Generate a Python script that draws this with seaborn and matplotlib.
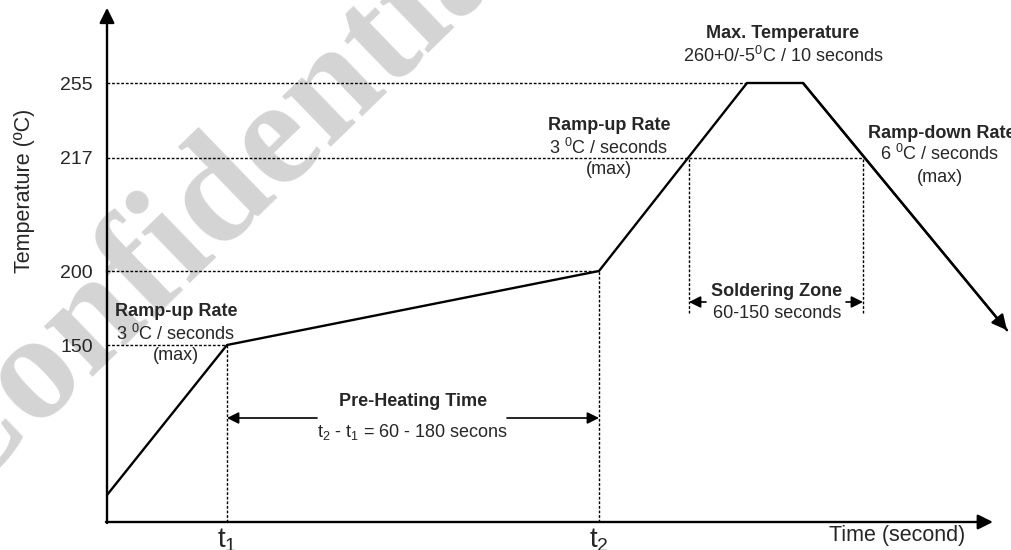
import numpy as np
import matplotlib
matplotlib.use("Agg")
import matplotlib.pyplot as plt
import seaborn as sns

# reflow profile (schematic)
profile_time = [0, 60, 246, 320, 348, 450]
profile_temp = [25, 150, 200, 255, 255, 160]
level_temps = [150, 200, 217, 255]
level_labels = ["150", "200", "217", "255"]
level_ends = [60, 246, 378, 320]
t_marks = [60, 246]
t_labels = ["t$_1$", "t$_2$"]
zone_times = [291, 378]
zone_bottom = 171.6

W, H = 1011, 550

sns.set_style("white")
plt.rcParams["font.family"] = ["Liberation Sans", "DejaVu Sans"]
plt.rcParams["mathtext.fontset"] = "custom"
plt.rcParams["mathtext.rm"] = "Liberation Sans"
plt.rcParams["mathtext.it"] = "Liberation Sans:italic"
plt.rcParams["mathtext.bf"] = "Liberation Sans:bold"

# the temperature axis is not to scale: piecewise mapping
anchor_t = np.array([0, 25, 150, 200, 217, 255, 300])
anchor_h = np.array([0, 27, 177, 251, 364, 439, 522])

def fwd(v):
    return np.interp(v, anchor_t, anchor_h)

def inv(v):
    return np.interp(v, anchor_h, anchor_t)

def px(x, y):
    return x / W, 1 - y / H

fig = plt.figure(figsize=(W / 100, H / 100), dpi=100)
ax = fig.add_axes([107 / W, 28 / H, 904 / W, 522 / H])
ax.set_yscale("function", functions=(fwd, inv))
ax.set_xlim(0, 452)
ax.set_ylim(0, 300)
for s in ax.spines.values():
    s.set_visible(False)

# watermark
ax.text(*px(222, 194), "Confidential", transform=fig.transFigure, fontsize=110,
        family="Liberation Serif", weight="bold", color="#d4d4d4", rotation=44,
        ha="center", va="center", zorder=0.5, clip_on=False)

dot = dict(color="black", lw=1, ls=(0, (2, 1.3)), zorder=1)
ax.hlines(level_temps, 0, level_ends, **dot)
ax.vlines(t_marks, 0, [150, 200], **dot)
ax.vlines(zone_times, zone_bottom, 217, **dot)

sns.lineplot(x=profile_time, y=profile_temp, color="black", lw=1.7, ax=ax, zorder=3)
ax.annotate("", xy=(profile_time[-1], profile_temp[-1]),
            xytext=(profile_time[-2], profile_temp[-2]), annotation_clip=False,
            arrowprops=dict(arrowstyle="-|>,head_length=0.6,head_width=0.3",
                            mutation_scale=15, color="black", lw=1.7,
                            shrinkA=0, shrinkB=0), zorder=3)

# axes with arrows
axis_arrow = dict(arrowstyle="-|>,head_length=0.6,head_width=0.3", mutation_scale=15,
                  color="black", lw=1.7, shrinkA=0, shrinkB=0)
ax.annotate("", xy=(0, 0.985), xytext=(0, -0.002), xycoords="axes fraction",
            arrowprops=axis_arrow, annotation_clip=False, zorder=4)
ax.annotate("", xy=(0.980, 0), xytext=(-0.0012, 0), xycoords="axes fraction",
            arrowprops=axis_arrow, annotation_clip=False, zorder=4)

ax.set_yticks(level_temps, level_labels, fontsize=14)
ax.set_xticks(t_marks, t_labels, fontsize=20)
ax.tick_params(axis="y", length=0, pad=10)
ax.tick_params(axis="x", length=0, pad=3)
ax.set_ylabel("Temperature (ºC)", fontsize=15.5)
ax.yaxis.set_label_coords(-0.080, 0.634)
ax.set_xlabel("Time (second)", fontsize=15.5)
ax.xaxis.set_label_coords(0.874, -0.006)

# arrows for the time spans
small = dict(arrowstyle="-|>,head_length=0.5,head_width=0.25", mutation_scale=14,
             color="black", lw=1.2, shrinkA=0, shrinkB=0)
yc = ("data", "figure fraction")
ax.annotate("", xy=(t_marks[0], px(0, 418)[1]), xytext=(105, px(0, 418)[1]),
            xycoords=yc, textcoords=yc, arrowprops=small)
ax.annotate("", xy=(t_marks[1], px(0, 418)[1]), xytext=(200, px(0, 418)[1]),
            xycoords=yc, textcoords=yc, arrowprops=small)
ax.annotate("", xy=(zone_times[0], px(0, 302)[1]), xytext=(299.5, px(0, 302)[1]),
            xycoords=yc, textcoords=yc, arrowprops=small)
ax.annotate("", xy=(zone_times[1], px(0, 302)[1]), xytext=(369.5, px(0, 302)[1]),
            xycoords=yc, textcoords=yc, arrowprops=small)

notes = [
    (176, 312, "Ramp-up Rate", "bold"),
    (176, 334, "3 $^0$C / seconds", "normal"),
    (176, 356, "(max)", "normal"),
    (413, 402, "Pre-Heating Time", "bold"),
    (413, 432, "t$_2$ - t$_1$ = 60 - 180 secons", "normal"),
    (777, 291, "Soldering Zone", "bold"),
    (777, 313, "60-150 seconds", "normal"),
    (783, 34, "Max. Temperature", "bold"),
    (783, 56, "260+0/-5$^0$C / 10 seconds", "normal"),
    (609, 126, "Ramp-up Rate", "bold"),
    (609, 148, "3 $^0$C / seconds", "normal"),
    (609, 170, "(max)", "normal"),
    (942, 133, "Ramp-down Rate", "bold"),
    (940, 154, "6 $^0$C / seconds", "normal"),
    (940, 177, "(max)", "normal"),
]
for x, y, s, w in notes:
    fig.text(*px(x, y), s, fontsize=13, weight=w, ha="center", va="center", zorder=5)

plt.savefig("out.png", dpi=100)
